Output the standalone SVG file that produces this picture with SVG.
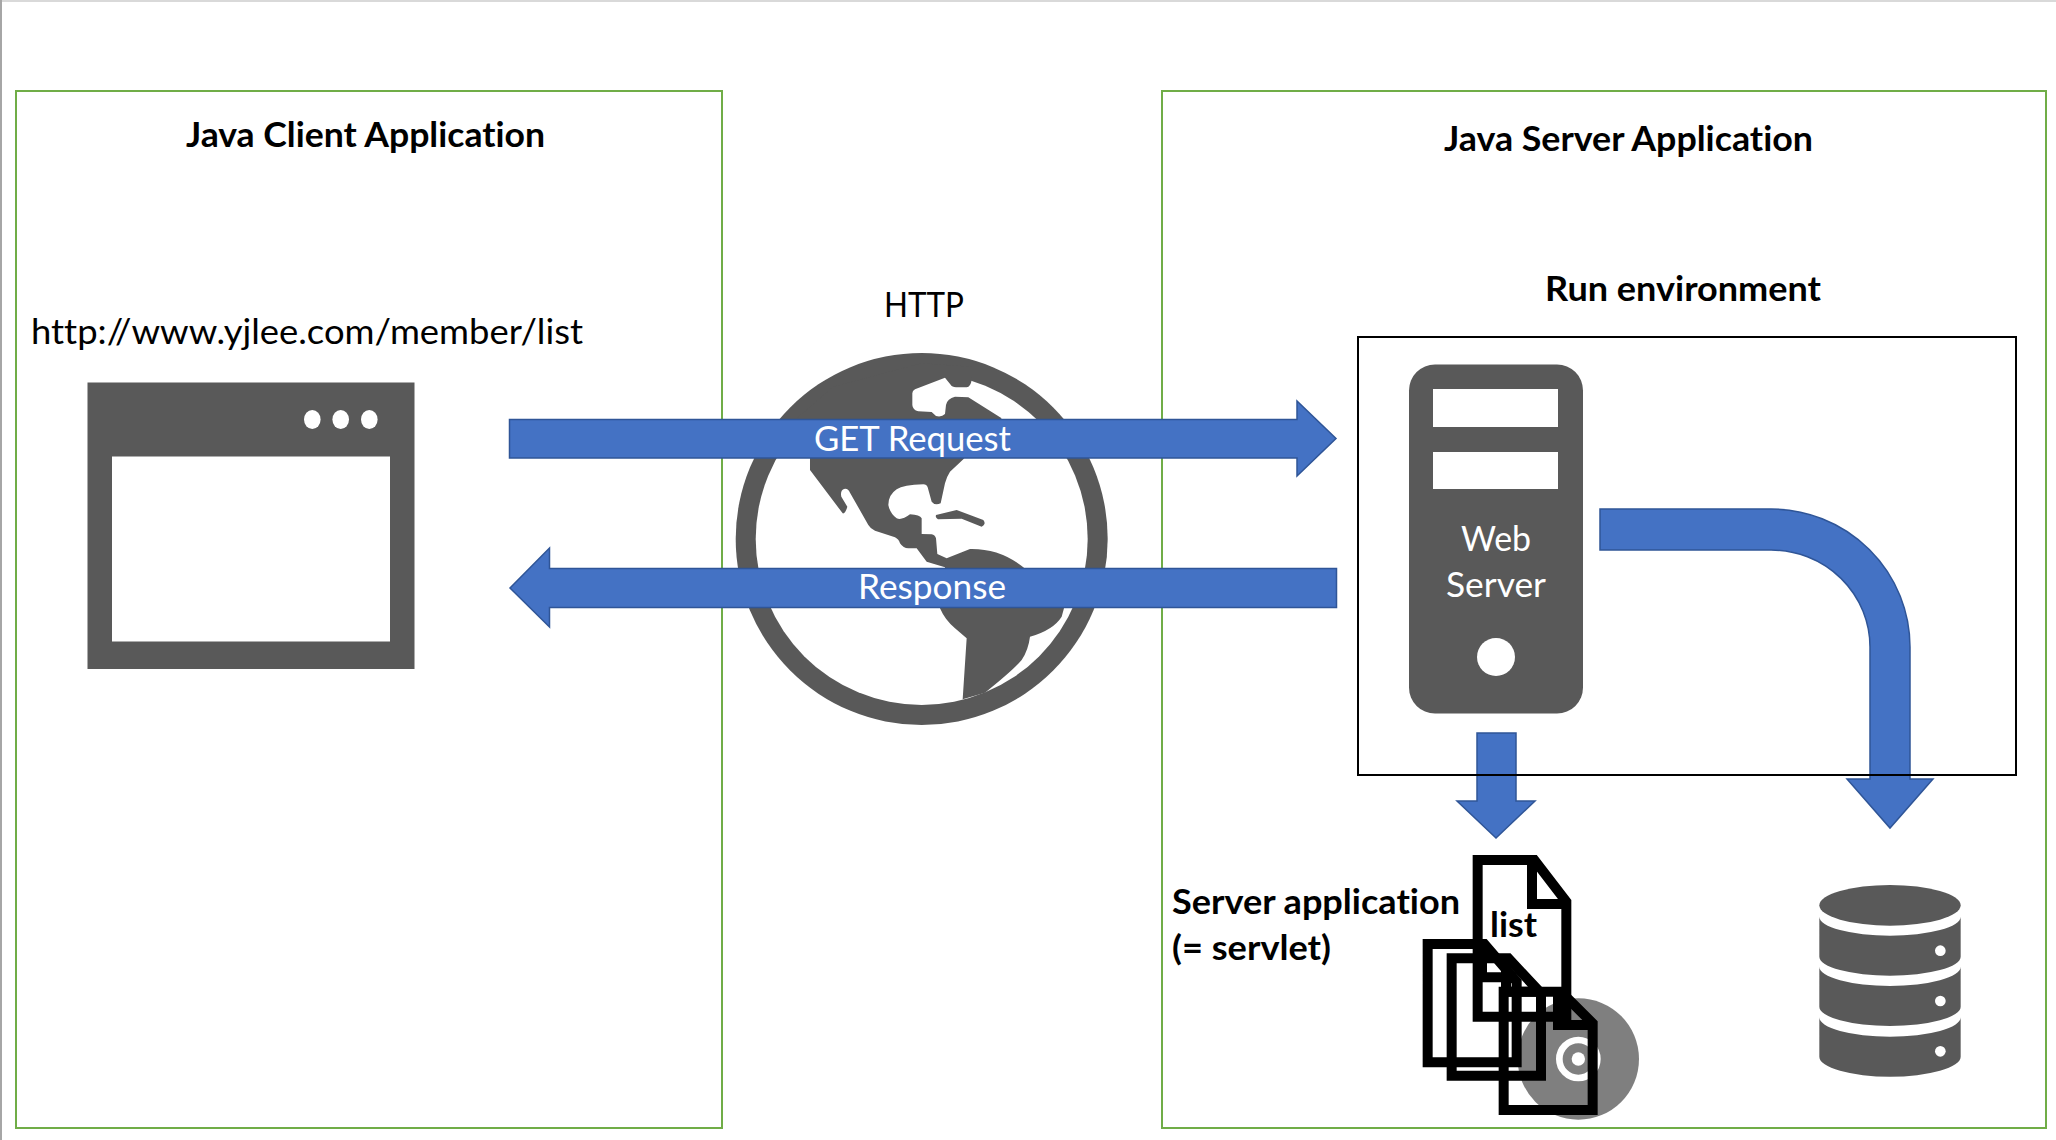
<svg xmlns="http://www.w3.org/2000/svg" width="2056" height="1140" viewBox="0 0 2056 1140">
<style>
text{font-family:"Lato","Noto Sans","Liberation Sans",sans-serif;fill:#000;font-size:34px;font-variant-ligatures:none}
.b{font-weight:700}
.w{fill:#fff}
.panel{fill:none;stroke:#70ad47;stroke-width:2}
.dark{fill:#595959}
.white{fill:#fff}
.arrow{fill:#4472c4;stroke:#2f5597;stroke-width:1.5}
.doc{fill:none;stroke:#000;stroke-width:30;stroke-linejoin:miter}
</style>
<rect width="2056" height="1140" fill="#fff"/>
<rect x="0" y="0" width="2056" height="2" fill="#d9d9d9"/>
<rect x="0" y="0" width="2" height="1140" fill="#a6a6a6"/>
<g id="client-panel">
<rect class="panel" x="16" y="91" width="706" height="1037"/>
<text class="b" x="186" y="147" textLength="359" lengthAdjust="spacingAndGlyphs">Java Client Application</text>
<text x="31" y="344" textLength="552" lengthAdjust="spacingAndGlyphs">http://www.yjlee.com/member/list</text>
</g>
<g id="server-panel">
<rect class="panel" x="1162" y="91" width="884" height="1037"/>
<text class="b" x="1444" y="151" textLength="369" lengthAdjust="spacingAndGlyphs">Java Server Application</text>
<text class="b" x="1545" y="301" textLength="276" lengthAdjust="spacingAndGlyphs">Run environment</text>
</g>
<g id="browser">
<rect class="dark" x="87.5" y="382.5" width="327" height="286.5"/>
<rect class="white" x="112" y="456.5" width="278" height="185"/>
<ellipse class="white" cx="312.3" cy="419.5" rx="8.3" ry="9.5"/>
<ellipse class="white" cx="340.7" cy="419.5" rx="8.3" ry="9.5"/>
<ellipse class="white" cx="369.3" cy="419.5" rx="8.3" ry="9.5"/>
</g>
<g id="globe">
<circle class="dark" cx="921.7" cy="539" r="186"/>
<circle class="white" cx="921.7" cy="539" r="166"/>
<g transform="translate(700 330) scale(.33333)">
<path class="dark" d="M330,375 L330,420 L428,550 Q436,552 442,530 L424,500 Q420,482 432,477 Q444,474 450,488 L505,585 Q512,597 525,602 L585,622 Q597,628 600,640 Q610,655 625,655 L650,655 L680,695 L735,712 L720,835 Q735,870 765,895 L800,925 L788,1108 L855,1088 Q940,1020 965,990 Q985,960 990,920 Q1060,900 1085,860 L1092,835 L970,712 Q900,655 810,657 L740,685 L712,672 L708,625 Q705,615 695,613 L665,612 L665,565 Q660,555 630,553 Q605,572 590,565 Q570,550 565,525 Q565,495 590,478 Q610,465 670,463 Q680,463 683,472 L695,515 Q705,528 722,520 L735,460 Q740,440 750,425 L790,388 L905,265 L805,202 L765,200 Q742,205 738,225 L735,252 Q725,262 708,258 L695,246 L655,244 Q638,240 637,225 L637,190 Q637,182 645,178 L735,143 L755,168 Q760,172 775,172 L800,172 Q812,170 815,150 L815,110 L665,100 L400,170 L250,300 L200,375 Z"/>
<path class="dark" d="M708,555 L770,540 L850,570 Q860,582 845,590 L785,566 L714,568 Q705,562 708,555 Z"/>
</g>
<text x="884" y="317" textLength="80" lengthAdjust="spacingAndGlyphs">HTTP</text>
</g>
<g id="web-server">
<rect class="dark" x="1409" y="364.5" width="174" height="349" rx="26" ry="26"/>
<rect class="white" x="1433" y="389" width="125" height="38"/>
<rect class="white" x="1433" y="452" width="125" height="37"/>
<circle class="white" cx="1496" cy="657" r="19"/>
<text class="w" x="1461" y="551" textLength="70" lengthAdjust="spacingAndGlyphs">Web</text>
<text class="w" x="1446" y="597" textLength="100" lengthAdjust="spacingAndGlyphs">Server</text>
</g>
<g id="database" transform="translate(1780 860) scale(.33333)">
<ellipse class="dark" cx="330" cy="136" rx="212" ry="61"/>
<path class="dark" d="M118,170 A212,57 0 0 0 542,170 V290 A212,57 0 0 1 118,290 Z"/>
<path class="dark" d="M118,320 A212,58 0 0 0 542,320 V440 A212,58 0 0 1 118,440 Z"/>
<path class="dark" d="M118,472 A212,58 0 0 0 542,472 V590 A212,60 0 0 1 118,590 Z"/>
<circle class="white" cx="481" cy="272" r="16"/>
<circle class="white" cx="481" cy="423" r="16"/>
<circle class="white" cx="481" cy="574" r="16"/>
</g>
<g id="servlets">
<text class="b" x="1172" y="914" textLength="288" lengthAdjust="spacingAndGlyphs">Server application</text>
<text class="b" x="1172" y="960" textLength="159" lengthAdjust="spacingAndGlyphs">(= servlet)</text>
<g transform="translate(1150 840) scale(.33333)">
<circle cx="1285" cy="657" r="182" fill="#7f7f7f"/>
<circle cx="1285" cy="657" r="57" fill="none" stroke="#fff" stroke-width="20"/>
<circle cx="1285" cy="657" r="20" fill="#fff"/>
<path class="doc" d="M983,60 H1153 L1249,185 V530 H983 Z M1146,60 V192 H1249"/>
<path class="doc" d="M833,312 H1003 L1100,425 V667 H833 Z M996,312 V412 H1100"/>
<path class="doc" d="M905,355 H1075 L1173,460 V707 H905 Z M1068,355 V455 H1173"/>
<path class="doc" d="M1061,455 H1233 L1328,550 V810 H1061 Z M1224,455 V555 H1328"/>
</g>
<text class="b" x="1490" y="937" textLength="47" lengthAdjust="spacingAndGlyphs">list</text>
</g>
<g id="connectors">
<path class="arrow" d="M509.500,419.500 H1297 V401 L1336,438.500 L1297,476 V458 H509.500 Z"/>
<path class="arrow" d="M1336.500,568.500 H549.500 V548 L510,588 L549.500,627 V607.500 H1336.500 Z"/>
<path class="arrow" d="M1600,509 H1771 A139,138 0 0 1 1910,647 V779 H1933 L1890,828 L1847,779 H1870 V647 A99,97 0 0 0 1771,550 H1600 Z"/>
<path class="arrow" d="M1477,733 H1516 V801 H1535 L1496,838 L1457,801 H1477 Z"/>
<text class="w" x="814" y="451" textLength="197" lengthAdjust="spacingAndGlyphs">GET Request</text>
<text class="w" x="858" y="599" textLength="148" lengthAdjust="spacingAndGlyphs">Response</text>
</g>
<g id="run-environment">
<rect x="1358" y="337" width="658" height="438" fill="none" stroke="#000" stroke-width="2"/>
</g>
</svg>
